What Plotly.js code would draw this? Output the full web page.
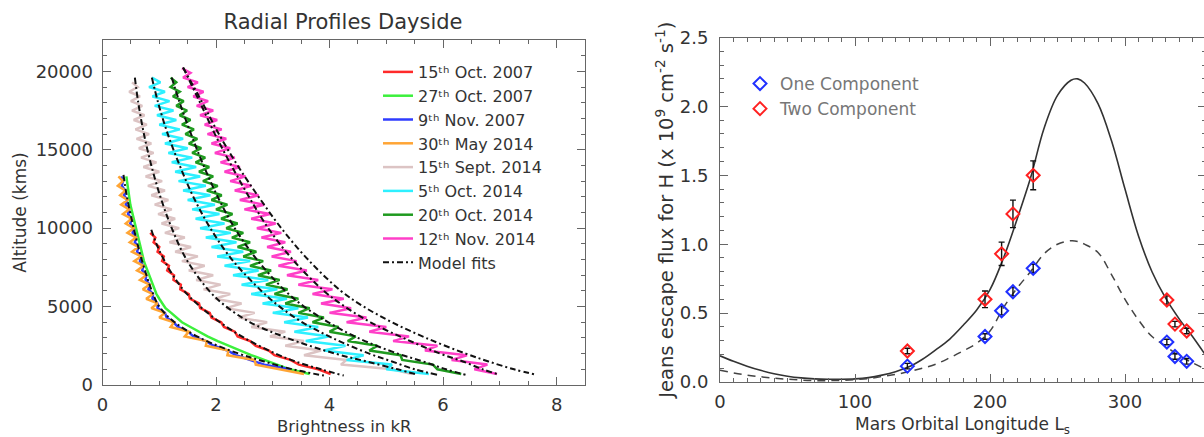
<!DOCTYPE html>
<html>
<head>
<meta charset="utf-8">
<script src="https://cdn.plot.ly/plotly-3.0.1.min.js"></script>
<style>
html,body{margin:0;padding:0;background:#fff;overflow:hidden;width:1204px;height:437px;}
#chart{width:1210px;height:437px;}
</style>
</head>
<body>
<div id="chart"></div>
<script>
// ---------------- Left panel: radial profiles ----------------
const altitude = [20200,19900,19600,19300,19000,18700,18400,18100,17800,17500,17200,16900,16600,16300,16000,15700,15400,15100,14800,14500,14200,13900,13600,13300,13000,12700,12400,12100,11800,11500,11200,10900,10600,10300,10000,9700,9400,9100,8800,8500,8200,7900,7600,7300,7000,6700,6400,6100,5800,5500,5200,4900,4600,4300,4000,3700,3400,3100,2800,2500,2200,1900,1600,1300,1000,700];

const oct15_2007 = [null,null,null,null,null,null,null,null,null,null,null,null,null,null,null,null,null,null,null,null,null,null,null,null,null,null,null,null,null,null,null,null,null,null,null,
 0.84,0.93,0.90,1.00,0.97,1.08,1.05,1.17,1.14,1.26,
 1.25,1.38,1.37,1.52,1.54,1.70,1.72,1.89,1.92,2.09,
 2.14,2.33,2.38,2.60,2.70,2.93,3.03,3.31,3.46,3.80,
 4.02];
const oct27_2007 = [null,null,null,null,null,null,null,null,null,null,null,null,null,null,null,null,null,null,null,null,null,null,null,
 0.42,0.43,0.44,0.45,0.46,0.47,0.49,0.51,0.53,0.55,
 0.565,0.58,0.60,0.62,0.64,0.66,0.685,0.705,0.73,0.76,
 0.79,0.82,0.85,0.88,0.91,0.95,1.00,1.05,1.11,1.21,
 1.30,1.40,1.55,1.70,1.85,2.03,2.22,2.42,2.62,2.85,
 3.08,3.30,3.65];
const nov9_2007 = [null,null,null,null,null,null,null,null,null,null,null,null,null,null,null,null,null,null,null,null,null,null,null,
 0.33,0.36,0.34,0.40,0.38,0.43,0.41,0.47,0.45,0.51,
 0.49,0.55,0.53,0.59,0.57,0.63,0.61,0.68,0.66,0.72,
 0.70,0.77,0.76,0.83,0.81,0.89,0.88,0.97,0.97,1.10,
 1.13,1.25,1.33,1.51,1.60,1.82,1.96,2.20,2.35,2.61,
 2.85,3.30,null];
const may30_2014 = [null,null,null,null,null,null,null,null,null,null,null,null,null,null,null,null,null,null,null,null,null,null,null,
 0.28,0.36,0.27,0.40,0.31,0.44,0.33,0.47,0.36,0.51,
 0.41,0.55,0.44,0.59,0.48,0.63,0.52,0.68,0.56,0.72,
 0.61,0.77,0.66,0.83,0.71,0.89,0.77,0.97,0.86,1.10,
 1.00,1.26,1.20,1.52,1.45,1.84,1.82,2.22,2.20,2.68,
 2.70,3.15,3.55];
const sep15_2014 = [null,null,null,
 0.52,0.62,0.47,0.66,0.50,0.70,0.52,0.74,0.55,0.78,
 0.58,0.82,0.60,0.86,0.64,0.90,0.68,0.95,0.72,1.00,
 0.76,1.05,0.80,1.10,0.86,1.16,0.92,1.22,0.98,1.28,
 1.04,1.35,1.10,1.45,1.18,1.56,1.28,1.68,1.40,1.80,
 1.52,1.95,1.65,2.08,1.78,2.25,1.98,2.45,2.18,2.68,
 2.40,2.90,2.62,3.22,2.95,3.55,3.22,3.85,3.55,4.30,
 4.20,5.10,5.45];
const oct5_2014 = [null,null,
 0.87,1.02,0.82,1.10,0.88,1.18,0.92,1.25,0.96,1.30,
 1.00,1.36,1.05,1.42,1.10,1.50,1.16,1.58,1.22,1.65,
 1.28,1.72,1.34,1.82,1.42,1.90,1.50,1.98,1.58,2.06,
 1.64,2.15,1.72,2.26,1.82,2.36,1.92,2.48,2.02,2.60,
 2.15,2.75,2.30,2.92,2.45,3.08,2.62,3.25,2.82,3.45,
 3.00,3.62,3.20,3.80,3.38,4.00,3.58,4.28,3.90,4.60,
 4.30,5.10,5.00,5.75];
const oct20_2014 = [null,null,
 1.20,1.30,1.20,1.36,1.24,1.43,1.30,1.49,1.36,1.55,
 1.40,1.61,1.46,1.67,1.52,1.74,1.58,1.81,1.64,1.88,
 1.70,1.95,1.77,2.03,1.84,2.10,1.92,2.20,2.00,2.29,
 2.09,2.38,2.18,2.48,2.28,2.60,2.38,2.71,2.48,2.83,
 2.60,2.97,2.74,3.12,2.88,3.26,3.03,3.45,3.22,3.65,
 3.45,3.90,3.70,4.16,4.00,4.46,4.32,4.84,4.70,5.25,
 5.28,5.82,5.90,6.32];
const nov12_2014 = [
 1.40,1.55,1.42,1.68,1.50,1.78,1.60,1.86,1.66,1.95,
 1.72,2.02,1.80,2.10,1.85,2.18,1.92,2.25,1.98,2.33,
 2.08,2.42,2.15,2.52,2.25,2.62,2.33,2.75,2.42,2.85,
 2.50,2.95,2.62,3.05,2.72,3.15,2.80,3.22,2.90,3.32,
 2.98,3.42,3.10,3.60,3.25,3.80,3.45,4.05,3.70,4.25,
 3.85,4.38,4.00,4.65,4.30,5.00,4.70,5.40,5.12,5.90,
 5.68,6.42,6.15,6.78,6.55,6.95];

const profileNames = ['15ᵗʰ Oct. 2007','27ᵗʰ Oct. 2007','9ᵗʰ Nov. 2007','30ᵗʰ May 2014','15ᵗʰ Sept. 2014','5ᵗʰ Oct. 2014','20ᵗʰ Oct. 2014','12ᵗʰ Nov. 2014'];
const profileColors = ['#ff2a2a','#3cf03c','#2f3cff','#ffa535','#dcc4c4','#2ef0ff','#1f9a1f','#ff3fc8'];
const profileValues = [oct15_2007, oct27_2007, nov9_2007, may30_2014, sep15_2014, oct5_2014, oct20_2014, nov12_2014];

// model fits (altitude, brightness)
const fitAltShort = [13400,12000,10000,8000,6000,5000,4000,3000,2000,1500,1000,600];
const fit2007 = [0.37,0.43,0.55,0.69,0.87,1.0,1.27,1.72,2.4,2.85,3.35,3.9];
const fitAltRed = [9900,9000,8000,7000,6000,5000,4000,3000,2000,1500,1000,600];
const fitRed = [0.86,0.95,1.08,1.24,1.44,1.72,2.07,2.5,3.05,3.4,3.85,4.25];
const fitAltLong = [19600,18000,16000,14000,12000,10000,8000,6000,5000,4000,3000,2000,1500,1000,650];
const fitSept = [0.57,0.63,0.73,0.86,1.02,1.22,1.48,1.88,2.18,2.6,3.25,4.1,4.65,5.2,5.55];
const fitOct5 = [0.87,0.98,1.15,1.36,1.6,1.9,2.28,2.8,3.12,3.52,4.05,4.7,5.1,5.5,5.9];
const fitOct20 = [1.22,1.36,1.56,1.78,2.03,2.33,2.72,3.22,3.55,3.98,4.5,5.2,5.65,6.05,6.4];
const fitAltPink = [20240,18000,16000,14000,12000,10000,8000,6000,5000,4000,3000,2000,1500,1000,650];
const fitNov12 = [1.42,1.72,1.98,2.27,2.58,2.92,3.35,3.9,4.27,4.72,5.3,5.95,6.35,6.7,7.0];
const fitOuter = [1.42,1.76,2.05,2.38,2.75,3.15,3.62,4.2,4.6,5.1,5.7,6.4,6.8,7.25,7.65];

// ---------------- Right panel: Jeans escape flux ----------------
const ls = [138.8,196.3,208.6,217,232,331,337,345.7];
const oneComponent = [0.115,0.33,0.517,0.655,0.825,0.29,0.185,0.15];
const oneErr = [0.02,0.02,0.03,0.03,0.03,0.02,0.02,0.02];
const twoComponent = [0.225,0.60,0.93,1.22,1.50,0.595,0.42,0.37];
const twoErr = [0.02,0.06,0.085,0.10,0.105,0.03,0.02,0.02];

const lsModel = [0,10,20,30,40,50,60,70,80,90,100,110,120,130,140,150,160,170,180,190,200,210,220,230,240,250,260,265,270,280,290,300,310,320,330,340,350,360];
const modelSolid = [0.19,0.15,0.115,0.085,0.06,0.042,0.03,0.023,0.02,0.02,0.023,0.032,0.05,0.075,0.11,0.165,0.235,0.31,0.41,0.52,0.67,0.90,1.18,1.48,1.84,2.08,2.19,2.20,2.17,2.02,1.75,1.40,1.06,0.80,0.61,0.46,0.33,0.19];
const modelDashed = [0.085,0.066,0.05,0.038,0.028,0.02,0.014,0.01,0.01,0.012,0.017,0.025,0.04,0.055,0.075,0.1,0.13,0.175,0.225,0.28,0.37,0.54,0.68,0.80,0.93,1.0,1.025,1.02,1.0,0.94,0.78,0.6,0.45,0.33,0.26,0.19,0.14,0.09];

const FONT = 'DejaVu Sans, Verdana, sans-serif';
const traces = [];
profileValues.forEach((vals, k) => {
  traces.push({x: vals, y: altitude, type:'scatter', mode:'lines', name: profileNames[k],
    line:{color: profileColors[k], width: 2.5}, xaxis:'x', yaxis:'y', legend:'legend', connectgaps:false});
});
const fitStyle = {color:'#111', width:2, dash:'6px,3px,2px,3px', shape:'spline'};
const fits = [[fit2007, fitAltShort],[fitRed, fitAltRed],[fitSept, fitAltLong],[fitOct5, fitAltLong],[fitOct20, fitAltLong],[fitNov12, fitAltPink],[fitOuter, fitAltPink]];
fits.forEach((f, k) => {
  traces.push({x: f[0], y: f[1], type:'scatter', mode:'lines', name:'Model fits', showlegend: k===0,
    line: fitStyle, xaxis:'x', yaxis:'y', legend:'legend'});
});

traces.push({x: lsModel, y: modelSolid, type:'scatter', mode:'lines', showlegend:false, line:{color:'#333', width:1.6, shape:'spline'}, xaxis:'x2', yaxis:'y2'});
traces.push({x: lsModel, y: modelDashed, type:'scatter', mode:'lines', showlegend:false, line:{color:'#444', width:1.5, dash:'8px,6px', shape:'spline'}, xaxis:'x2', yaxis:'y2'});
traces.push({x: ls, y: oneComponent, type:'scatter', mode:'markers', name:'One Component', legend:'legend2',
  marker:{symbol:'diamond-open', size:10, color:'#2030ff', line:{width:2}},
  error_y:{type:'data', array: oneErr, color:'#111', thickness:1.4, width:3}, xaxis:'x2', yaxis:'y2'});
traces.push({x: ls, y: twoComponent, type:'scatter', mode:'markers', name:'Two Component', legend:'legend2',
  marker:{symbol:'diamond-open', size:10, color:'#ff2020', line:{width:2}},
  error_y:{type:'data', array: twoErr, color:'#111', thickness:1.4, width:3}, xaxis:'x2', yaxis:'y2'});

const W = 1210, H = 437;
const axisCommon = {showline:true, linecolor:'#666', linewidth:1, mirror:'allticks', ticks:'inside', ticklen:8, tickcolor:'#666', showgrid:false, zeroline:false, tickfont:{size:18, color:'#333'}};
const layout = {
  width: W, height: H, margin:{l:0,r:0,t:0,b:0}, paper_bgcolor:'#fff', plot_bgcolor:'#fff',
  font:{family: FONT, size:18, color:'#333'},
  title:{text:'Radial Profiles Dayside', x:343/W, xanchor:'center', y:1-22/H, yanchor:'middle', font:{size:21, color:'#333'}},
  xaxis: Object.assign({}, axisCommon, {domain:[102.5/W, 585/W], range:[0,8.5], dtick:2, tick0:0, anchor:'y',
    minor:{dtick:0.5, ticklen:4, tickcolor:'#666', ticks:'inside'}, ticklabelstandoff:3}),
  yaxis: Object.assign({}, axisCommon, {domain:[(H-385)/H, (H-40)/H], range:[0,22000], dtick:5000, tick0:0, tickformat:'d', anchor:'x',
    minor:{dtick:1000, ticklen:4, tickcolor:'#666', ticks:'inside'}, ticklabelstandoff:5,
    title:{text:'Altitude (kms)', font:{size:17}, standoff:4}}),
  xaxis2: Object.assign({}, axisCommon, {domain:[720/W, 1206/W], range:[0,360], dtick:100, tick0:0, anchor:'y2',
    minor:{dtick:10, ticklen:4, tickcolor:'#666', ticks:'inside'}, ticklabelstandoff:3}),
  yaxis2: Object.assign({}, axisCommon, {domain:[(H-382)/H, (H-37.5)/H], range:[0,2.5], dtick:0.5, tick0:0, tickformat:'.1f', anchor:'x2',
    minor:{dtick:0.1, ticklen:4, tickcolor:'#666', ticks:'inside'}, ticklabelstandoff:7,
    title:{text:'Jeans escape flux for H (x 10<sup>9</sup> cm<sup>-2</sup> s<sup>-1</sup>)', font:{size:19.5}, standoff:0}}),
  annotations:[
    {text:'Brightness in kR', xref:'paper', yref:'paper', x:344/W, y:1-426/H, xanchor:'center', yanchor:'middle', showarrow:false, font:{size:16.5, color:'#333'}},
    {text:'Mars Orbital Longitude L<sub>s</sub>', xref:'paper', yref:'paper', x:963/W, y:1-425/H, xanchor:'center', yanchor:'middle', showarrow:false, font:{size:17, color:'#333'}}
  ],
  legend:{x:378/W, xanchor:'left', y:1-55/H, yanchor:'top', bgcolor:'rgba(0,0,0,0)', font:{size:16, color:'#333'}, tracegroupgap:0, itemwidth:30},
  legend2:{x:740/W, xanchor:'left', y:1-66/H, yanchor:'top', bgcolor:'rgba(0,0,0,0)', font:{size:17, color:'#777'}, tracegroupgap:0, itemwidth:30}
};
Plotly.newPlot('chart', traces, layout, {displayModeBar:false, staticPlot:true});
</script>
</body>
</html>
